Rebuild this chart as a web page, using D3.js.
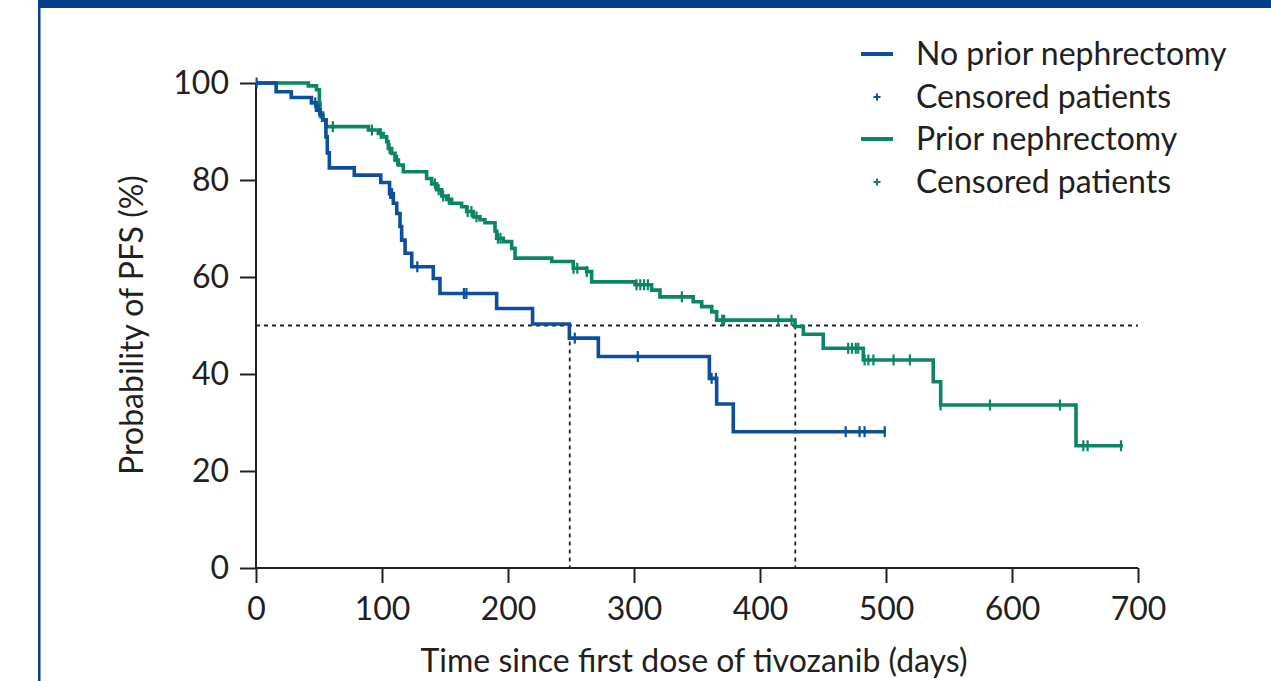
<!DOCTYPE html>
<html>
<head>
  <meta charset="utf-8">
  <title>PFS by prior nephrectomy</title>
  <script src="https://cdn.jsdelivr.net/npm/d3@7"></script>
  <style>
    body { margin: 0; background: #fff; }
    text { font-family: Lato, "Open Sans", sans-serif; fill: #231f20; }
  </style>
</head>
<body>
<svg id="chart" width="1271" height="681"></svg>
<script>
// ---- data ----
var xTicks = [0, 100, 200, 300, 400, 500, 600, 700];
var yTicks = [0, 20, 40, 60, 80, 100];

// No prior nephrectomy: event times (days) and survival (%) after each drop
var noPriorTimes = [16, 28, 44, 48, 51, 53, 55.5, 56.6, 58.2, 78, 99, 106, 109, 111.7, 114.3, 115.6, 118.3, 123.6, 140.7, 146, 191, 219.5, 248.7, 271.7, 359.8, 365.6, 378.8];
var noPriorSurv  = [98.2, 97.0, 95.9, 94.4, 93.4, 92.4, 88.9, 85.6, 82.5, 81.0, 79.5, 77.2, 75.2, 73.1, 70.4, 67.6, 64.9, 62.1, 59.7, 56.6, 53.5, 50.3, 47.4, 43.6, 39.1, 33.8, 28.1];
var noPriorCensored = [0.5, 47, 50, 106.5, 108, 128, 165, 167, 253, 303, 361.6, 365, 468, 479, 483, 499];
var noPriorEnd = 500;

// Prior nephrectomy
var priorTimes = [41.5, 48, 50.3, 50.8, 52.9, 55.6, 89.2, 97.1, 101, 103.7, 105, 107.7, 110.3, 113, 116.9, 135.4, 139.4, 143.4, 147.4, 151.3, 155.3, 163.2, 167.2, 172.5, 177.8, 181.7, 189.7, 191, 196.3, 202.9, 205.6, 234.7, 251.8, 262.5, 266.4, 300.8, 314, 320.6, 347, 353.7, 361.7, 365.6, 427.8, 434.4, 450.2, 482, 537.5, 543.4, 650.8];
var priorSurv  = [99.4, 98.6, 95.8, 93.8, 92.4, 91.0, 90.3, 89.6, 88.9, 87.9, 86.5, 85.5, 84.1, 83.1, 81.7, 80.3, 79.2, 78.0, 76.7, 76.0, 75.2, 74.5, 73.5, 72.4, 71.8, 71.2, 69.5, 68.0, 67.3, 65.9, 63.9, 63.2, 61.8, 61.1, 59.0, 58.4, 57.3, 55.9, 54.9, 53.9, 52.8, 51.1, 49.8, 48.2, 45.3, 42.9, 38.4, 33.6, 25.2];
var priorCensored = [51, 61, 92, 99, 106, 112, 142, 145, 148.5, 153, 168, 171, 175, 192, 194, 252, 255, 262.5, 302, 305, 308, 311, 338, 370, 371.5, 414.5, 425, 470, 473, 476, 478, 483, 486, 490, 506, 519, 543.4, 582.5, 638, 656.6, 660, 686.5];
var priorEnd = 688;

var medianLevel = 50;
var medians = [249, 428];

var legendLabels = ["No prior nephrectomy", "Censored patients", "Prior nephrectomy", "Censored patients"];

var BLUE = "#0b4f9e";
var GREEN = "#0a8567";
var INK = "#231f20";

var svg = d3.select("#chart");

// frame
svg.append("rect").attr("x", 38).attr("y", 0).attr("width", 1233).attr("height", 8).attr("fill", "#043c8e");
svg.append("rect").attr("x", 38).attr("y", 0).attr("width", 2.5).attr("height", 681).attr("fill", "#043c8e");

var x = d3.scaleLinear().domain([0, 700]).range([256, 1138]);
var y = d3.scaleLinear().domain([0, 100]).range([568, 83]);

// reference lines for medians
var g = svg.append("g");
g.append("line")
  .attr("x1", x(0)).attr("x2", x(700))
  .attr("y1", y(medianLevel)).attr("y2", y(medianLevel))
  .attr("stroke", INK).attr("stroke-width", 1.8).attr("stroke-dasharray", "4,4");
medians.forEach(function(m) {
  g.append("line")
    .attr("x1", x(m)).attr("x2", x(m))
    .attr("y1", y(medianLevel)).attr("y2", y(0))
    .attr("stroke", INK).attr("stroke-width", 1.8).attr("stroke-dasharray", "4,4");
});

// axes
var xAxis = d3.axisBottom(x).tickValues(xTicks).tickSize(15).tickPadding(14);
var yAxis = d3.axisLeft(y).tickValues(yTicks).tickSize(16).tickPadding(11);

var gx = svg.append("g").attr("transform", "translate(0," + y(0) + ")").call(xAxis);
var gy = svg.append("g").attr("transform", "translate(" + x(0) + ",0)").call(yAxis);
[gx, gy].forEach(function(a) {
  a.select(".domain").attr("stroke", INK).attr("stroke-width", 2);
  a.selectAll(".tick line").attr("stroke", INK).attr("stroke-width", 2);
  a.selectAll(".tick text").style("font-size", "32px").attr("fill", INK)
    .style("font-family", "Lato, 'Open Sans', sans-serif");
});
gx.select(".domain").attr("d", "M" + x(0) + ",0H" + x(700));
gy.select(".domain").attr("d", "M0," + y(100) + "V" + y(0));
gx.selectAll(".tick text").attr("dy", "0.72em");

// axis titles
svg.append("text")
  .attr("x", 694).attr("y", 672)
  .attr("text-anchor", "middle")
  .style("font-size", "32px")
  .text("Time since first dose of tivozanib (days)");

svg.append("text")
  .attr("transform", "translate(143,325) rotate(-90)")
  .attr("text-anchor", "middle")
  .style("font-size", "32px")
  .text("Probability of PFS (%)");

// Kaplan-Meier curves
function survivalAt(times, surv, t) {
  var i = d3.bisectRight(times, t);
  return i === 0 ? 100 : surv[i - 1];
}

function drawCurve(times, surv, censored, end, color) {
  var pts = [[0, 100]];
  times.forEach(function(t, i) { pts.push([t, surv[i]]); });
  pts.push([end, surv[surv.length - 1]]);

  var line = d3.line()
    .x(function(d) { return x(d[0]); })
    .y(function(d) { return y(d[1]); })
    .curve(d3.curveStepAfter);

  svg.append("path")
    .datum(pts)
    .attr("fill", "none")
    .attr("stroke", color)
    .attr("stroke-width", 3.6)
    .attr("d", line);

  svg.append("g").selectAll("line")
    .data(censored)
    .enter()
    .append("line")
    .attr("x1", function(d) { return x(d); })
    .attr("x2", function(d) { return x(d); })
    .attr("y1", function(d) { return y(survivalAt(times, surv, d)) - 5.5; })
    .attr("y2", function(d) { return y(survivalAt(times, surv, d)) + 5.5; })
    .attr("stroke", color)
    .attr("stroke-width", 2.2);
}

drawCurve(priorTimes, priorSurv, priorCensored, priorEnd, GREEN);
drawCurve(noPriorTimes, noPriorSurv, noPriorCensored, noPriorEnd, BLUE);

// legend
var legendColors = [BLUE, BLUE, GREEN, GREEN];
var legendKinds = ["line", "plus", "line", "plus"];
var legendBase = [65, 108, 150, 193];

var lg = svg.append("g");
legendLabels.forEach(function(label, i) {
  var cy = legendBase[i] - 11;
  if (legendKinds[i] === "line") {
    lg.append("line")
      .attr("x1", 861).attr("x2", 893).attr("y1", cy).attr("y2", cy)
      .attr("stroke", legendColors[i]).attr("stroke-width", 4);
  } else {
    lg.append("path")
      .attr("d", "M873.5," + cy + "h7M877," + (cy - 3.5) + "v7")
      .attr("stroke", legendColors[i]).attr("stroke-width", 2)
      .attr("fill", "none");
  }
  lg.append("text")
    .attr("x", 916).attr("y", legendBase[i])
    .style("font-size", "32px")
    .text(label);
});
</script>
</body>
</html>
